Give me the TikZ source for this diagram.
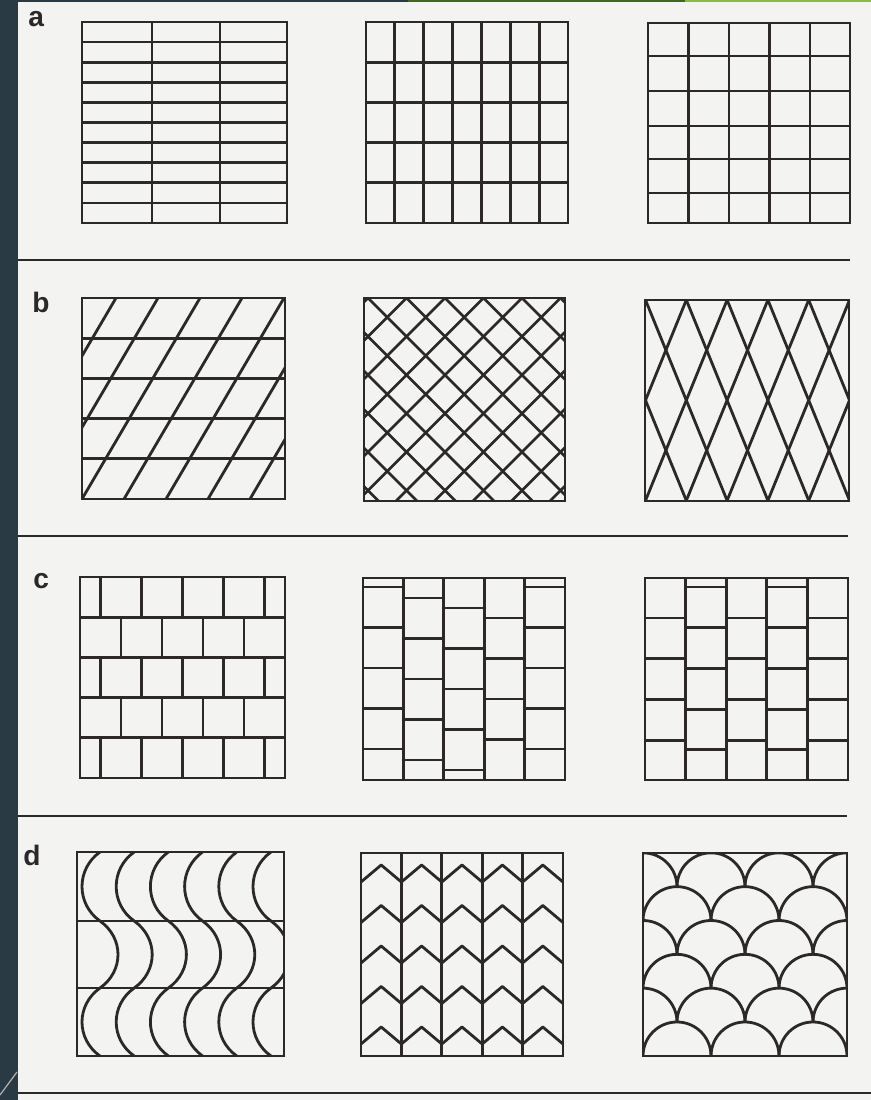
\documentclass[tikz,border=0pt]{standalone}
\usepackage{fontspec}
\setmainfont{Liberation Sans}
\usepackage{xcolor}
\usepackage{tikz}
\definecolor{page}{RGB}{243,243,242}
\definecolor{band}{RGB}{42,58,68}
\definecolor{ink}{RGB}{44,40,42}
\definecolor{leaf}{RGB}{62,104,34}
\definecolor{lime}{RGB}{138,188,62}
\newcommand{\fishscale}[2]{%
  \draw[tile] (#1-34,#2) .. controls (#1-34,#2-18.8) and (#1-18.8,#2-34) .. (#1,#2-34)
    .. controls (#1+18.8,#2-34) and (#1+34,#2-18.8) .. (#1+34,#2);}

\begin{document}
\begin{tikzpicture}[x=0.25mm, y=-0.25mm,
  tile/.style={draw=ink, line width=0.7mm, line join=round},
  frame/.style={draw=ink, line width=0.72mm},
  rule/.style={draw=ink, line width=0.55mm},
  lbl/.style={font=\fontsize{20}{24}\selectfont\bfseries, text=ink,
              inner sep=0pt, anchor=base west}
]
\useasboundingbox (0,0) rectangle (871,1100);
\fill[page] (0,0) rectangle (871,1100);
\fill[band] (0,0) rectangle (18,1100);
\fill[band] (18,0) rectangle (408,2);
\fill[leaf] (408,0) rectangle (685,2);
\fill[lime] (685,0) rectangle (871,2);
\draw[gray!60, line width=0.3mm] (0,1095) -- (17,1072);

% row labels
\node[lbl] (rowa) at (28,27) {a};
\node[lbl] (rowb) at (32,312) {b};
\node[lbl] (rowc) at (33,588) {c};
\node[lbl] (rowd) at (23,865) {d};

% rules between rows
\draw[rule] (18,260) -- (850,260);
\draw[rule] (18,536) -- (848,536);
\draw[rule] (18,816) -- (847,816);
\draw[rule] (18,1093) -- (871,1093);

% row a: stack bond
\foreach \y in {1,...,9} \draw[tile] (82,22+20.1*\y) -- (287,22+20.1*\y);
\foreach \x in {152,220} \draw[tile] (\x,22) -- (\x,223);
\draw[frame] (82,22) rectangle (287,223);

\foreach \y in {1,...,4} \draw[tile] (366,22+40.2*\y) -- (568,22+40.2*\y);
\foreach \x in {1,...,6} \draw[tile] (366+28.86*\x,22) -- (366+28.86*\x,223);
\draw[frame] (366,22) rectangle (568,223);

\foreach \y in {56,91,126,159,193} \draw[tile] (648,\y) -- (850,\y);
\foreach \x in {1,...,4} \draw[tile] (648+40.5*\x,23) -- (648+40.5*\x,223);
\draw[frame] (648,23) rectangle (850,223);

% row b: slanted and diagonal grids
\begin{scope}
  \clip (82,298) rectangle (285,499);
  \foreach \y in {1,...,4} \draw[tile] (82,298+40.2*\y) -- (285,298+40.2*\y);
  \foreach \k in {-2,...,4} \draw[tile] (82+42*\k,499) -- (200+42*\k,298);
\end{scope}
\draw[frame] (82,298) rectangle (285,499);

\begin{scope}
  \clip (364,298) rectangle (565,501);
  \foreach \k in {-6,...,11} {
    \draw[tile] (368+38.5*\k,298) -- (571+38.5*\k,501);
    \draw[tile] (368+38.5*\k,298) -- (165+38.5*\k,501);
  }
\end{scope}
\draw[frame] (364,298) rectangle (565,501);

\begin{scope}
  \clip (645,300) rectangle (849,501);
  \foreach \k in {-3,...,8} {
    \draw[tile] (645.5+40.8*\k,300) -- (727.3+40.8*\k,501);
    \draw[tile] (645.5+40.8*\k,300) -- (563.7+40.8*\k,501);
  }
\end{scope}
\draw[frame] (645,300) rectangle (849,501);

% row c: running bonds
\foreach \y in {1,...,4} \draw[tile] (80,577+40.2*\y) -- (285,577+40.2*\y);
\foreach \r in {0,2,4} \foreach \i in {0,...,4}
  \draw[tile] (100.5+41*\i,577+40.2*\r) -- ++(0,40.2);
\foreach \r in {1,3} \foreach \i in {0,...,3}
  \draw[tile] (121+41*\i,577+40.2*\r) -- ++(0,40.2);
\draw[frame] (80,577) rectangle (285,778);

\foreach \i in {1,...,4} \draw[tile] (363+40.4*\i,578) -- (363+40.4*\i,780);
\foreach \c/\o/\n in {0/9/4,1/20/4,2/30/4,3/40/3,4/9/4}
  \foreach \m in {0,...,\n}
    \draw[tile] (363+40.4*\c,578+\o+40.5*\m) -- ++(40.4,0);
\draw[frame] (363,578) rectangle (565,780);

\foreach \i in {1,...,4} \draw[tile] (645+40.6*\i,578) -- (645+40.6*\i,780);
\foreach \c/\o/\n in {0/40/3,1/9/4,2/40/3,3/9/4,4/40/3}
  \foreach \m in {0,...,\n}
    \draw[tile] (645+40.6*\c,578+\o+40.7*\m) -- ++(40.6,0);
\draw[frame] (645,578) rectangle (848,780);

% row d: waves, chevrons, scales
\begin{scope}
  \clip (77,852) rectangle (284,1056);
  \foreach \y in {921,988} \draw[tile] (77,\y) -- (284,\y);
  \foreach \k in {0,...,5} {
    \pgfmathsetmacro\xo{100+34.2*\k}
    \draw[tile] (\xo,852) .. controls (\xo-24,869) and (\xo-24,904) .. (\xo,921)
      .. controls (\xo+24,938) and (\xo+24,971) .. (\xo,988)
      .. controls (\xo-24,1005) and (\xo-24,1039) .. (\xo,1056);
  }
\end{scope}
\draw[frame] (77,852) rectangle (284,1056);

\foreach \i in {1,...,4} \draw[tile] (361+40.4*\i,853) -- (361+40.4*\i,1056);
\foreach \c in {0,...,4} \foreach \r in {0,...,4}
  \draw[tile] (361+40.4*\c,882+40.5*\r) -- ++(20.2,-17) -- ++(20.2,17);
\draw[frame] (361,853) rectangle (563,1056);

\begin{scope}
  \clip (643,853) rectangle (847,1056);
  \foreach \j in {1,3,5} \foreach \m in {0,...,3} {
    \pgfmathsetmacro\cx{643+68*\m}
    \pgfmathsetmacro\fy{853+33.83*\j}
    \fishscale{\cx}{\fy}
  }
  \foreach \j in {2,4,6} \foreach \m in {0,...,2} {
    \pgfmathsetmacro\cx{677+68*\m}
    \pgfmathsetmacro\fy{853+33.83*\j}
    \fishscale{\cx}{\fy}
  }
\end{scope}
\draw[frame] (643,853) rectangle (847,1056);
\end{tikzpicture}
\end{document}
